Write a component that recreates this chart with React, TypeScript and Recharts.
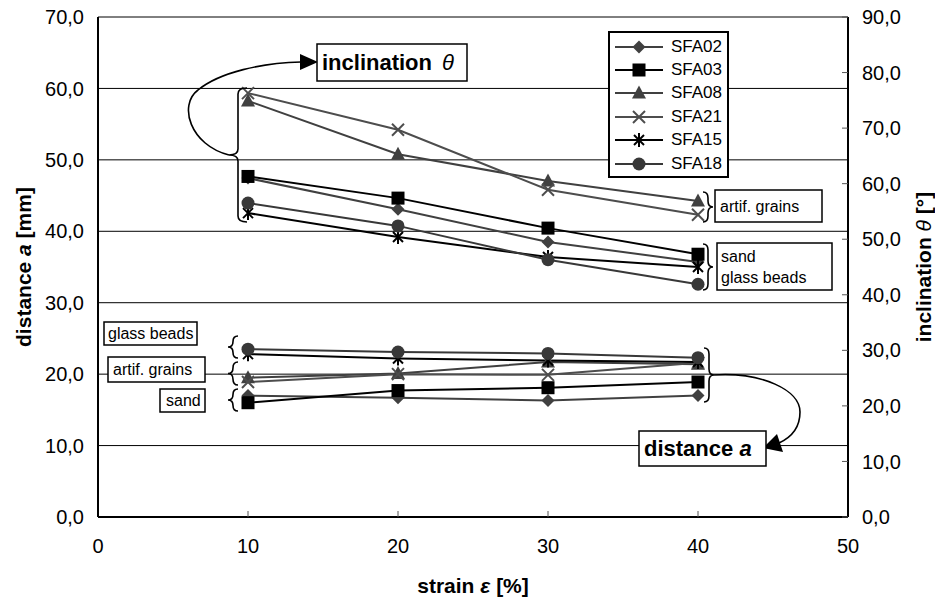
import React from 'react';
import { LineChart, Line, XAxis, YAxis, CartesianGrid, Legend } from 'recharts';

const STRAIN = [10, 20, 30, 40];

// distance a [mm], left axis
const DIST_SFA02 = [17.0, 16.7, 16.3, 17.0];
const DIST_SFA03 = [16.0, 17.7, 18.1, 18.9];
const DIST_SFA08 = [19.5, 20.1, 21.7, 21.4];
const DIST_SFA21 = [18.9, 20.0, 19.9, 21.6];
const DIST_SFA15 = [22.8, 22.2, 21.9, 21.7];
const DIST_SFA18 = [23.5, 23.1, 22.9, 22.3];

// inclination theta [deg], right axis
const INCL_SFA02 = [61.0, 55.4, 49.5, 45.9];
const INCL_SFA03 = [61.3, 57.4, 52.0, 47.3];
const INCL_SFA08 = [74.9, 65.3, 60.5, 56.9];
const INCL_SFA21 = [76.3, 69.7, 58.9, 54.4];
const INCL_SFA15 = [54.7, 50.4, 46.8, 45.0];
const INCL_SFA18 = [56.5, 52.4, 46.3, 41.9];

const X_TICKS = [0, 10, 20, 30, 40, 50];
const A_TICKS = [0, 10, 20, 30, 40, 50, 60, 70];
const T_TICKS = [0, 10, 20, 30, 40, 50, 60, 70, 80, 90];

const FONT = '"Liberation Sans", Arial, sans-serif';

type Shape = 'diamond' | 'square' | 'triangle' | 'cross' | 'star' | 'circle';

const SERIES: { name: string; dist: number[]; incl: number[]; shape: Shape; color: string }[] = [
  { name: 'SFA02', dist: DIST_SFA02, incl: INCL_SFA02, shape: 'diamond', color: '#404040' },
  { name: 'SFA03', dist: DIST_SFA03, incl: INCL_SFA03, shape: 'square', color: '#000000' },
  { name: 'SFA08', dist: DIST_SFA08, incl: INCL_SFA08, shape: 'triangle', color: '#404040' },
  { name: 'SFA21', dist: DIST_SFA21, incl: INCL_SFA21, shape: 'cross', color: '#4d4d4d' },
  { name: 'SFA15', dist: DIST_SFA15, incl: INCL_SFA15, shape: 'star', color: '#000000' },
  { name: 'SFA18', dist: DIST_SFA18, incl: INCL_SFA18, shape: 'circle', color: '#383838' },
];

const data = STRAIN.map((s, i) => {
  const row: Record<string, number> = { strain: s };
  SERIES.forEach((se) => {
    row[`${se.name}_a`] = se.dist[i];
    row[`${se.name}_t`] = se.incl[i];
  });
  return row;
});

const fmt = (v: number) => v.toFixed(1).replace('.', ',');

function Marker({ shape, cx, cy, color }: { shape: Shape; cx: number; cy: number; color: string }) {
  switch (shape) {
    case 'diamond':
      return <polygon points={`${cx},${cy - 6.5} ${cx + 6.5},${cy} ${cx},${cy + 6.5} ${cx - 6.5},${cy}`} fill={color} />;
    case 'square':
      return <rect x={cx - 6.5} y={cy - 6.5} width={13} height={13} fill={color} />;
    case 'triangle':
      return <polygon points={`${cx},${cy - 7.5} ${cx + 7},${cy + 5.5} ${cx - 7},${cy + 5.5}`} fill={color} />;
    case 'cross':
      return (
        <g stroke={color} strokeWidth={2}>
          <line x1={cx - 6} y1={cy - 6} x2={cx + 6} y2={cy + 6} />
          <line x1={cx - 6} y1={cy + 6} x2={cx + 6} y2={cy - 6} />
        </g>
      );
    case 'star':
      return (
        <g stroke={color} strokeWidth={2}>
          <line x1={cx - 5} y1={cy - 5} x2={cx + 5} y2={cy + 5} />
          <line x1={cx - 5} y1={cy + 5} x2={cx + 5} y2={cy - 5} />
          <line x1={cx} y1={cy - 7} x2={cx} y2={cy + 7} />
        </g>
      );
    default:
      return <circle cx={cx} cy={cy} r={6.5} fill={color} />;
  }
}

const dotFor = (shape: Shape, color: string) => (props: any) => {
  const { cx, cy, index } = props;
  if (cx == null || cy == null) return <g key={`e-${index}`} />;
  return (
    <g key={`d-${index}`}>
      <Marker shape={shape} cx={cx} cy={cy} color={color} />
    </g>
  );
};

function LegendBox() {
  return (
    <div
      style={{
        width: 121,
        height: 147,
        boxSizing: 'border-box',
        border: '2px solid #000',
        background: '#fff',
        paddingTop: 2,
        fontFamily: FONT,
        fontSize: 17,
      }}
    >
      {SERIES.map((se) => (
        <div key={se.name} style={{ display: 'flex', alignItems: 'center', height: 23.4 }}>
          <svg width={58} height={22} style={{ marginLeft: 3 }}>
            <line x1={2} y1={11} x2={50} y2={11} stroke={se.color} strokeWidth={2} />
            <Marker shape={se.shape} cx={26} cy={11} color={se.color} />
          </svg>
          <span style={{ color: '#000' }}>{se.name}</span>
        </div>
      ))}
    </div>
  );
}

// curly brace, dir -1 = "{" (tip left), 1 = "}" (tip right)
const brace = (x: number, y1: number, y2: number, dir: number, w: number) => {
  const ym = (y1 + y2) / 2;
  const r = Math.min(6, (y2 - y1) / 4);
  return `M${x - dir * w},${y1} Q${x},${y1} ${x},${y1 + r} L${x},${ym - r} Q${x},${ym} ${x + dir * w},${ym} Q${x},${ym} ${x},${ym + r} L${x},${y2 - r} Q${x},${y2} ${x - dir * w},${y2}`;
};

function Annotations() {
  const box = { fill: '#fff', stroke: '#000', strokeWidth: 1.5 };
  return (
    <svg
      width={935}
      height={599}
      style={{ position: 'absolute', left: 0, top: 0, pointerEvents: 'none' }}
      fontFamily={FONT}
    >
      <g fill="none" stroke="#000" strokeWidth={1.6}>
        <path d={brace(238, 88, 222, -1, 9)} />
        <path d={brace(233, 336, 358, -1, 5)} />
        <path d={brace(233, 362, 385, -1, 5)} />
        <path d={brace(233, 389, 411, -1, 5)} />
        <path d={brace(708, 192, 222, 1, 5)} />
        <path d={brace(708, 244, 290, 1, 5)} />
        <path d={brace(709, 348, 402, 1, 5)} />
        <path d="M229,155 C190,145 178,105 198,90 C220,72 262,63 301,62" />
        <path d="M714,375 C762,372 800,390 800,412 C800,428 792,437 779,443" />
      </g>
      <polygon points="300,54 318,62 300,70" fill="#000" />
      <polygon points="763,448 777,434 783,452" fill="#000" />

      <rect x={317} y={44} width={150} height={37} {...box} />
      <text x={322} y={70} fontSize={22} fontWeight="bold">
        inclination
        <tspan dx={10} fontStyle="italic" fontWeight="normal">θ</tspan>
      </text>

      <rect x={639} y={431} width={127} height={35} {...box} />
      <text x={644} y={456} fontSize={22} fontWeight="bold">
        distance <tspan fontStyle="italic">a</tspan>
      </text>

      <rect x={715} y={190} width={107} height={32} {...box} />
      <text x={720} y={212} fontSize={16}>artif. grains</text>
      <rect x={717} y={243} width={115} height={47} {...box} />
      <text x={721} y={262} fontSize={16}>sand</text>
      <text x={721} y={283} fontSize={16}>glass beads</text>

      <rect x={104} y={322} width={93} height={23} {...box} />
      <text x={108} y={339} fontSize={16}>glass beads</text>
      <rect x={108} y={357} width={97} height={25} {...box} />
      <text x={113} y={375} fontSize={16}>artif. grains</text>
      <rect x={160} y={389} width={45} height={23} {...box} />
      <text x={166} y={406} fontSize={16}>sand</text>

      <text transform="translate(31,267) rotate(-90)" textAnchor="middle" fontSize={21} fontWeight="bold">
        distance <tspan fontStyle="italic">a</tspan> [mm]
      </text>
      <text transform="translate(931,267) rotate(-90)" textAnchor="middle" fontSize={21} fontWeight="bold">
        inclination <tspan fontStyle="italic" fontWeight="normal">θ</tspan> [°]
      </text>
      <text x={473} y={593} textAnchor="middle" fontSize={21} fontWeight="bold">
        strain <tspan fontStyle="italic">ε</tspan> [%]
      </text>
    </svg>
  );
}

export default function App() {
  const tick = { fontSize: 20, fill: '#000', fontFamily: FONT };
  return (
    <div style={{ position: 'absolute', left: 0, top: 0, width: 935, height: 599, background: '#fff' }}>
      <LineChart width={935} height={599} data={data} margin={{ top: 17, right: 27, bottom: 52, left: 38 }}>
        <CartesianGrid vertical={false} yAxisId="a" stroke="#000" strokeWidth={1} />
        <XAxis
          type="number"
          dataKey="strain"
          domain={[0, 50]}
          ticks={X_TICKS}
          interval={0}
          height={30}
          tick={tick}
          tickSize={-6}
          tickMargin={28}
          tickLine={{ stroke: '#555' }}
          axisLine={{ stroke: '#000', strokeWidth: 2 }}
        />
        <YAxis
          yAxisId="a"
          orientation="left"
          domain={[0, 70]}
          ticks={A_TICKS}
          interval={0}
          width={60}
          tick={tick}
          tickFormatter={fmt}
          tickLine={false}
          tickMargin={8}
          axisLine={{ stroke: '#000', strokeWidth: 2 }}
        />
        <YAxis
          yAxisId="t"
          orientation="right"
          domain={[0, 90]}
          ticks={T_TICKS}
          interval={0}
          width={60}
          tick={tick}
          tickFormatter={fmt}
          tickSize={-6}
          tickMargin={20}
          tickLine={{ stroke: '#555' }}
          axisLine={{ stroke: '#000', strokeWidth: 2 }}
        />
        {SERIES.map((se) => (
          <Line
            key={`${se.name}_a`}
            yAxisId="a"
            type="linear"
            dataKey={`${se.name}_a`}
            name={se.name}
            stroke={se.color}
            strokeWidth={2}
            dot={dotFor(se.shape, se.color)}
            activeDot={false}
            legendType="none"
            isAnimationActive={false}
          />
        ))}
        {SERIES.map((se) => (
          <Line
            key={`${se.name}_t`}
            yAxisId="t"
            type="linear"
            dataKey={`${se.name}_t`}
            name={se.name}
            stroke={se.color}
            strokeWidth={2}
            dot={dotFor(se.shape, se.color)}
            activeDot={false}
            legendType="none"
            isAnimationActive={false}
          />
        ))}
        <Legend
          layout="horizontal"
          verticalAlign="middle"
          align="center"
          content={() => <LegendBox />}
          wrapperStyle={{ left: 608, top: 31, width: 121, height: 147 }}
        />
      </LineChart>
      <Annotations />
    </div>
  );
}
